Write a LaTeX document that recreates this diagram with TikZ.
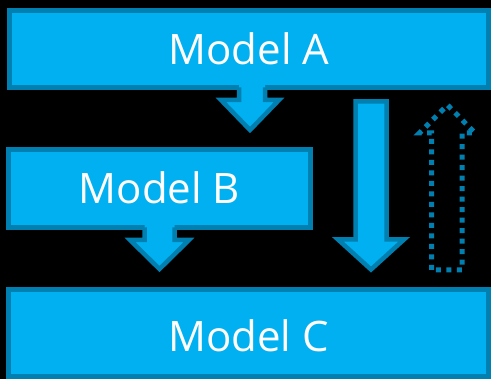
\documentclass[tikz,border=0pt]{standalone}
\usepackage{fontspec}
\setmainfont{Open Sans}
\definecolor{fillblue}{HTML}{00B0F0}
\definecolor{edgeblue}{HTML}{0080B0}
\begin{document}
\begin{tikzpicture}[x=1pt,y=-1pt,
  modelbox/.style={draw=edgeblue, fill=fillblue, line width=5pt, text=white,
    font=\fontsize{42}{50}\selectfont, inner sep=0pt, text depth=0pt},
  arrowfill/.style={fill=fillblue},
  arrowedge/.style={draw=edgeblue, line width=4.5pt, line join=miter},
  dottedarrow/.style={draw=edgeblue, line width=5pt, dash pattern=on 5pt off 5.5pt, line join=miter}]
\fill[black] (0,0) rectangle (491,379);
\useasboundingbox (0,0) rectangle (491,379);

\node[modelbox, minimum width=479pt, minimum height=77.5pt, text height=32pt] (A) at (249,49) {Model A};
\node[modelbox, minimum width=302pt, minimum height=78pt, text height=31pt] (B) at (159.5,188.5) {Model B};
\node[modelbox, minimum width=480pt, minimum height=87pt, text height=37pt] (C) at (248.5,333) {Model C};

% arrow A -> B
\fill[arrowfill] (239,84) -- (239,100) -- (221,100) -- (250,130) -- (279,100) -- (265,100) -- (265,84) -- cycle;
\draw[arrowedge] (239,87.5) -- (239,100) -- (221,100) -- (250,130) -- (279,100) -- (265,100) -- (265,87.5);

% arrow B -> C
\fill[arrowfill] (144.5,224) -- (144.5,240) -- (130,240) -- (159.5,269) -- (189,240) -- (174.5,240) -- (174.5,224) -- cycle;
\draw[arrowedge] (144.5,227.5) -- (144.5,240) -- (130,240) -- (159.5,269) -- (189,240) -- (174.5,240) -- (174.5,227.5);

% big down arrow
\draw[arrowedge, fill=fillblue] (355.5,101.5) -- (355.5,239.5) -- (338,239.5) -- (371,269.5) -- (404,239.5) -- (386.5,239.5) -- (386.5,101.5) -- cycle;

% dotted up arrow
\draw[dottedarrow] (431.5,270) -- (431.5,133) -- (419.5,133) -- (447.5,105) -- (475,133) -- (462,133) -- (462,270) -- cycle;
\end{tikzpicture}
\end{document}
